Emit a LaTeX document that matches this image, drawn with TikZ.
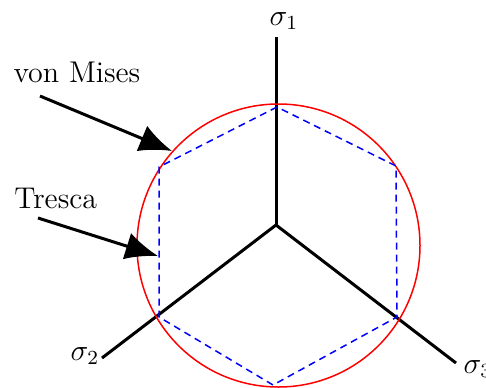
\documentclass[tikz,border=0pt]{standalone}
\usetikzlibrary{arrows.meta}
\begin{document}
\begin{tikzpicture}[x=0.4pt,y=-0.4pt,
  axis/.style={line width=1.2pt},
  mises/.style={red,line width=0.6pt},
  tresca/.style={blue,line width=0.6pt,dash pattern=on 2.8pt off 2pt},
  pointer/.style={line width=1.2pt,-{Latex[length=13pt,width=11pt]}},
  lbl/.style={inner sep=0pt,font=\fontsize{12}{14}\selectfont}]
\useasboundingbox (0,0) rectangle (486,387);
% axes
\coordinate (O) at (276,225);
\coordinate (e1) at (276,37);
\coordinate (e2) at (102,358);
\coordinate (e3) at (456,363);
\draw[axis] (O) -- (e1);
\draw[axis] (O) -- (e2);
\draw[axis] (O) -- (e3);
\node[lbl] (s1) at (284,21) {$\sigma_1$};
\node[lbl] (s2) at (85,356) {$\sigma_2$};
\node[lbl] (s3) at (478,369) {$\sigma_3$};
% von Mises circle
\coordinate (C) at (278.5,245.5);
\draw[mises] (C) circle[radius=141.5];
% Tresca hexagon
\coordinate (hT) at (277,107);
\coordinate (hUL) at (159,167);
\coordinate (hLL) at (159,317);
\coordinate (hB) at (273,385);
\coordinate (hLR) at (397,317);
\coordinate (hUR) at (396,166);
\draw[tresca] (hT) -- (hUL) -- (hLL) -- (hB) -- (hLR) -- (hUR) -- cycle;
% labels with pointers
\node[lbl,anchor=base west] (vm) at (13,82) {von Mises};
\node[lbl,anchor=base west] (tr) at (14,208) {Tresca};
\coordinate (vmStart) at (40,96);
\coordinate (vmTip) at (172,151);
\coordinate (trStart) at (38,218);
\coordinate (trTip) at (158,256);
\draw[pointer] (vmStart) -- (vmTip);
\draw[pointer] (trStart) -- (trTip);
\end{tikzpicture}
\end{document}
